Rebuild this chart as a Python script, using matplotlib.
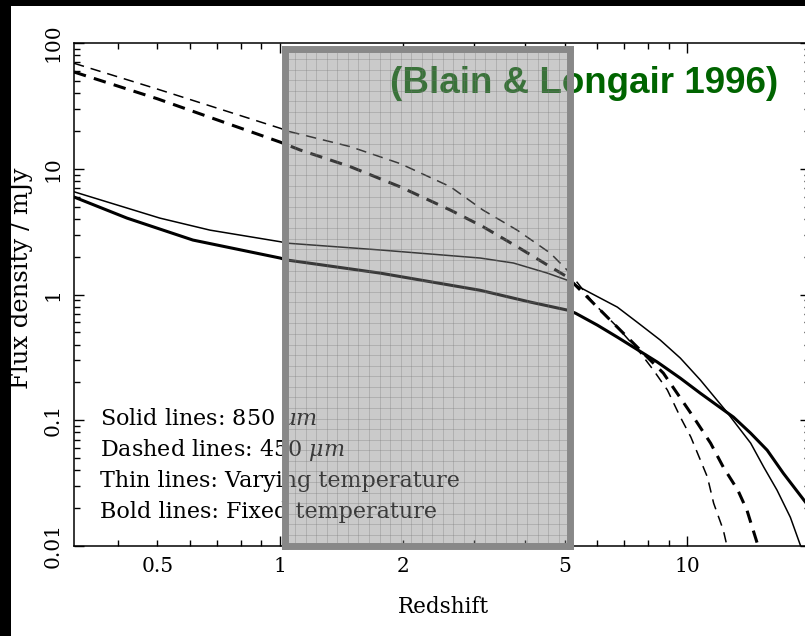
import numpy as np
import matplotlib
matplotlib.use("Agg")
import matplotlib.pyplot as plt
from matplotlib.patches import Rectangle
from matplotlib.ticker import FixedLocator, FixedFormatter, NullFormatter, LogLocator

# ---------------- data ----------------
z_thin_dash = [0.312, 0.5, 1.0, 1.058, 1.486, 1.97, 2.62, 3.15, 3.82, 4.61, 5.07, 5.31,
               5.88, 6.73, 7.67, 8.25, 8.93, 9.61, 10.2, 11.2, 11.6, 12.25, 12.5]
f_thin_dash = [69.0, 43.0, 21.0, 19.7, 15.0, 11.0, 7.19, 4.69, 3.25, 2.13, 1.56, 1.30,
               0.855, 0.551, 0.342, 0.251, 0.174, 0.106, 0.0734, 0.0353, 0.0219, 0.0134, 0.0101]

z_bold_dash = [0.312, 0.5, 1.0, 1.12, 1.486, 1.97, 2.62, 3.15, 3.82, 4.61, 5.07, 5.68,
               7.12, 7.97, 8.73, 10.35, 11.4, 12.25, 13.3, 14.0, 14.9]
f_bold_dash = [58.8, 36.0, 16.3, 14.1, 10.4, 7.19, 4.69, 3.46, 2.40, 1.66, 1.38, 0.953,
               0.458, 0.318, 0.237, 0.106, 0.0658, 0.0424, 0.0278, 0.0193, 0.0101]

z_thin_solid = [0.312, 0.507, 0.673, 1.0, 1.04, 1.76, 3.10, 3.74, 4.53, 5.07, 5.31,
                6.73, 7.58, 8.58, 9.61, 10.76, 12.4, 14.3, 15.4, 16.6, 17.9, 18.95]
f_thin_solid = [6.56, 4.05, 3.25, 2.63, 2.56, 2.26, 1.95, 1.78, 1.48, 1.30, 1.19,
                0.794, 0.592, 0.434, 0.312, 0.209, 0.120, 0.0658, 0.0424, 0.0278, 0.0169, 0.0101]

z_bold_solid = [0.312, 0.421, 0.611, 1.0, 1.04, 1.76, 3.10, 4.11, 5.07, 5.31, 6.01,
                6.73, 8.44, 9.61, 10.76, 12.97, 14.3, 15.7, 17.2, 19.5]
f_bold_solid = [5.96, 4.05, 2.71, 1.95, 1.88, 1.48, 1.08, 0.871, 0.752, 0.711, 0.571,
                0.458, 0.290, 0.216, 0.164, 0.106, 0.0789, 0.0578, 0.0379, 0.0223]

x_ticks_major = [1, 10]
x_major_labels = ["1", "10"]
x_ticks_minor = [0.4, 0.5, 0.6, 0.7, 0.8, 0.9, 2, 3, 4, 5, 6, 7, 8, 9, 20]
x_minor_labels = ["", "0.5", "", "", "", "", "2", "", "", "5", "", "", "", "", ""]
y_ticks = [0.01, 0.1, 1, 10, 100]
y_tick_labels = ["0.01", "0.1", "1", "10", "100"]

legend_lines = ["Solid lines: 850 $\\mu m$",
                "Dashed lines: 450 $\\mu m$",
                "Thin lines: Varying temperature",
                "Bold lines: Fixed temperature"]
title_text = "(Blain & Longair 1996)"

# ---------------- figure ----------------
plt.rcParams['font.family'] = ['DejaVu Serif']
plt.rcParams['mathtext.fontset'] = 'dejavuserif'
plt.rcParams['lines.scale_dashes'] = False

W, H = 805, 636
fig = plt.figure(figsize=(W / 100, H / 100), dpi=100)
fig.patch.set_facecolor('white')

ax = fig.add_axes([74 / W, 1 - 546 / H, 736 / W, 503 / H])
ax.set_xscale('log')
ax.set_yscale('log')
ax.set_xlim(0.312, 20)
ax.set_ylim(0.01, 100)

thin, bold = 1.1, 2.2
ax.plot(z_thin_dash, f_thin_dash, color='black', lw=thin, dashes=(7.5, 5))
ax.plot(z_bold_dash, f_bold_dash, color='black', lw=bold, dashes=(9, 6))
ax.plot(z_thin_solid, f_thin_solid, color='black', lw=thin)
ax.plot(z_bold_solid, f_bold_solid, color='black', lw=bold)

for s in ax.spines.values():
    s.set_linewidth(1.1)

ax.xaxis.set_major_locator(FixedLocator(x_ticks_major))
ax.xaxis.set_major_formatter(FixedFormatter(x_major_labels))
ax.xaxis.set_minor_locator(FixedLocator(x_ticks_minor))
ax.xaxis.set_minor_formatter(FixedFormatter(x_minor_labels))
ax.yaxis.set_major_locator(FixedLocator(y_ticks))
ax.yaxis.set_major_formatter(FixedFormatter(y_tick_labels))
ax.yaxis.set_minor_locator(LogLocator(base=10, subs=np.arange(2, 10)))
ax.yaxis.set_minor_formatter(NullFormatter())

ax.tick_params(which='both', direction='in', top=True, right=True, width=1.0,
               labelsize=14.5, pad=8)
ax.tick_params(which='major', length=7.5)
ax.tick_params(which='minor', length=4)
for lab in ax.get_yticklabels():
    lab.set_rotation(90)
    lab.set_va('center')

ax.set_xlabel("Redshift", fontsize=15.5)
ax.xaxis.set_label_coords((443 - 74) / 736, (546 - 596) / 503)
ax.xaxis.label.set_va('top')
ax.set_ylabel("Flux density / mJy", fontsize=17.5)
ax.yaxis.set_label_coords((33 - 74) / 736, (546 - 278) / 503)

for i, t in enumerate(legend_lines):
    ax.text((100 - 74) / 736, (546 - (419 + 31 * i)) / 503, t, fontsize=16,
            va='center', ha='left', transform=ax.transAxes)

ax.text(584 / W, 1 - 93 / H, title_text, transform=fig.transFigure,
        fontsize=26.5, fontweight='bold', color='#006400',
        family=['Liberation Sans', 'DejaVu Sans'], ha='center', va='baseline',
        clip_on=False)

# ---------------- semi-transparent gridded overlay ----------------
ov = fig.add_axes([284.5 / W, 1 - 545.5 / H, 285 / W, 497 / H])
ov.set_facecolor((0.52, 0.52, 0.52, 0.43))
ov.set_xlim(0, 27)
ov.set_ylim(0, 47)
ov.set_xticks(np.arange(0, 28))
ov.set_yticks(np.arange(0, 48))
ov.tick_params(length=0, labelbottom=False, labelleft=False)
ov.grid(True, color=(0.45, 0.45, 0.45), alpha=0.35, lw=0.6)
for s in ov.spines.values():
    s.set_linewidth(5.0)
    s.set_color('#888888')

# scanned black margins
fig.patches.append(Rectangle((0, 0), 11 / W, 1, transform=fig.transFigure,
                             facecolor='black', edgecolor='none', zorder=5))
fig.patches.append(Rectangle((0, 1 - 6 / H), 1, 6 / H, transform=fig.transFigure,
                             facecolor='black', edgecolor='none', zorder=5))

fig.savefig("out.png", dpi=100)
